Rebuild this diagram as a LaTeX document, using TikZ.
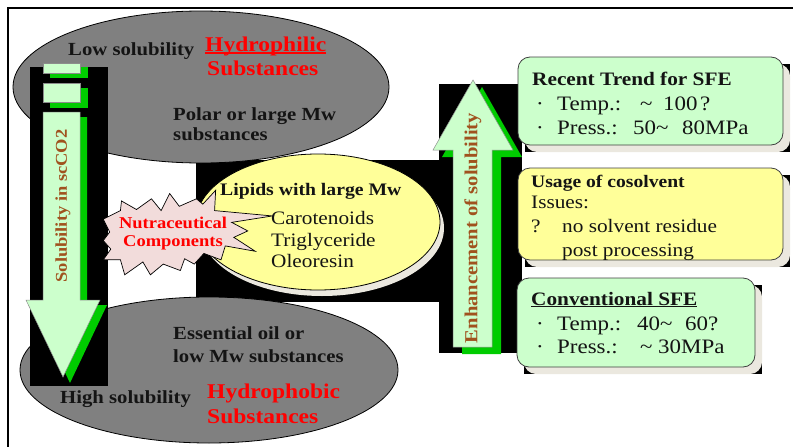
\documentclass[tikz,border=0pt]{standalone}
\usepackage{fontspec}
\setmainfont{Liberation Serif}[FakeStretch=1.12]
\usetikzlibrary{shapes.geometric}
\definecolor{lgreen}{RGB}{204,255,204}
\definecolor{dgreen}{RGB}{0,204,0}
\definecolor{ellgray}{RGB}{128,128,128}
\definecolor{lyellow}{RGB}{255,255,153}
\definecolor{pinkb}{RGB}{242,220,219}
\definecolor{brownt}{RGB}{160,82,30}
\definecolor{shbeige}{RGB}{235,232,223}
\definecolor{txt}{RGB}{20,20,20}
\begin{document}
\begin{tikzpicture}[x=1pt,y=-1pt,
  bl/.style={font=\fontsize{18.5}{20}\selectfont\bfseries, text=txt, inner sep=0pt, anchor=base west},
  rd/.style={font=\fontsize{21}{23}\selectfont\bfseries, text=red, inner sep=0pt, anchor=base west},
  rg/.style={font=\fontsize{19}{21}\selectfont, text=txt, inner sep=0pt, anchor=base west},
  bx/.style={font=\fontsize{20.5}{22}\selectfont, text=txt, inner sep=0pt, anchor=base west},
  vt/.style={font=\fontsize{17.5}{19}\selectfont\bfseries, text=brownt, inner sep=0pt, rotate=90},
  ell/.style={ellipse, draw=black, line width=0.8pt, inner sep=0pt},
  rbox/.style={draw=black!75, line width=0.8pt, rounded corners=12pt, inner sep=0pt},
  arrowlight/.style={fill=lgreen, draw=black!45, line width=0.5pt},
]
\useasboundingbox (0,0) rectangle (793,447);
% frame
\draw[line width=1.6pt] (8,447) -- (8,8) -- (793,8);

% black backgrounds
\fill[black] (196,160) rectangle (442,302);
\fill[black] (439,84) rectangle (522,353);

% grey ellipses
\node[ell, fill=ellgray, minimum width=376, minimum height=152] (topell) at (201,87) {};
\node[ell, fill=ellgray, minimum width=378, minimum height=146] (botell) at (209,370) {};

% left arrow
\fill[black] (30,67) rectangle (108,386);
\fill[dgreen] (50,67) rectangle (88,78);
\fill[dgreen] (50,88) rectangle (88,108);
\fill[dgreen] (50,117) -- (87,117) -- (87,305) -- (107,305) -- (70,383) -- (33,305) -- (50,305) -- cycle;
\path[arrowlight] (43,63) rectangle (80,73);
\path[arrowlight] (43,83) rectangle (80,102);
\path[arrowlight] (43,112) -- (80,112) -- (80,300) -- (100,300) -- (63,377) -- (26,300) -- (43,300) -- cycle;

% yellow ellipse
\fill[shbeige] (322,228) ellipse [x radius=122, y radius=68];
\node[ell, fill=lyellow, minimum width=244, minimum height=136] (lipell) at (318,222) {};

% starburst
\begin{scope}[scale around={1.07:(175,232)}]
\path[fill=pinkb, draw=black, line width=0.7pt]
  (108,220) -- (124,212) -- (125,203) -- (139,211) -- (153,201) -- (162,212)
  -- (170,196) -- (179,208) -- (195,201) -- (201,206) -- (213,193) -- (212,212)
  -- (266,217) -- (228,223) -- (243,231) -- (230,237) -- (250,250) -- (222,245)
  -- (218,258) -- (202,252) -- (193,262) -- (184,257) -- (180,268) -- (164,262)
  -- (152,272) -- (145,260) -- (128,272) -- (124,258) -- (108,258) -- (115,248)
  -- (108,240) -- (114,232) -- cycle;
\end{scope}

% up arrow
\fill[dgreen] (462,354) -- (462,157) -- (442,157) -- (482,87) -- (522,157) -- (501,157) -- (501,354) -- cycle;
\path[arrowlight] (453,347) -- (453,150) -- (433,150) -- (473,80) -- (513,150) -- (492,150) -- (492,347) -- cycle;

% boxes with shadows
\fill[black] (525,64) rectangle (790,152);
\fill[shbeige, rounded corners=12pt] (525,64) rectangle (790,152);
\node[rbox, fill=lgreen, minimum width=265, minimum height=88] (box1) at (650.5,101) {};
\fill[black] (525,175) rectangle (790,267);
\fill[shbeige, rounded corners=12pt] (525,175) rectangle (790,267);
\node[rbox, fill=lyellow, minimum width=265, minimum height=92] (box2) at (650.5,214) {};
\fill[black] (524,285) rectangle (762,374);
\fill[shbeige, rounded corners=12pt] (524,285) rectangle (762,374);
\node[rbox, fill=lgreen, minimum width=238, minimum height=89] (box3) at (636,322.5) {};

% texts, top ellipse
\node[bl] (lowsol) at (68,55) {Low solubility};
\node[rd] (hphil) at (205,51) {\makebox[0pt][l]{\rule[-2.5pt]{121pt}{1.2pt}}Hydrophilic};
\node[rd] (subs1) at (207,75) {Substances};
\node[bl] (polar1) at (173,120) {Polar or large Mw};
\node[bl] (polar2) at (173,140) {substances};

% texts, bottom ellipse
\node[bl] (ess1) at (173,339) {Essential oil or};
\node[bl] (ess2) at (173,362) {low Mw substances};
\node[bl] (highsol) at (60,403) {High solubility};
\node[rd] (hphob) at (207,398) {Hydrophobic};
\node[rd] (subs2) at (207,423) {Substances};

% middle
\node[bl, font=\fontsize{17.6}{19}\selectfont\bfseries] (lipids) at (220,195) {Lipids with large Mw};
\node[rg] (caro) at (271,224) {Carotenoids};
\node[rg] (trig) at (271,246) {Triglyceride};
\node[rg] (oleo) at (271,267) {Oleoresin};
\node[rd, font=\fontsize{16.5}{18}\selectfont\bfseries, anchor=base] (nutra1) at (173,228) {Nutraceutical};
\node[rd, font=\fontsize{16.5}{18}\selectfont\bfseries, anchor=base] (nutra2) at (173,246) {Components};

% arrow labels
\node[vt, font=\fontsize{16.5}{18}\selectfont\bfseries] (solsc) at (63,206) {Solubility in scCO2};
\node[vt, font=\fontsize{18.4}{20}\selectfont\bfseries] (enh) at (473,228) {Enhancement of solubility};

% box 1
\node[bl, font=\fontsize{19}{21}\selectfont\bfseries] (rt) at (532,85) {Recent Trend for SFE};
\node[bx] (rt1) at (536,110) {\makebox[21pt][l]{·}\makebox[83pt][l]{Temp.:}\makebox[23pt][l]{\textasciitilde}\makebox[37pt][l]{100}?};
\node[bx] (rt2) at (536,134) {\makebox[21pt][l]{·}\makebox[76pt][l]{Press.:}\makebox[49pt][l]{50\textasciitilde}80MPa};

% box 2
\node[bl, font=\fontsize{17.5}{19}\selectfont\bfseries] (uc) at (531,187) {Usage of cosolvent};
\node[rg] (uc1) at (531,208) {Issues:};
\node[rg] (uc2) at (531,232) {\makebox[31pt][l]{?}no solvent residue};
\node[rg] (uc3) at (562,256) {post processing};

% box 3
\node[bl, font=\fontsize{19}{21}\selectfont\bfseries] (cs) at (531,305) {\underline{Conventional SFE}};
\node[bx] (cs1) at (536,330) {\makebox[21pt][l]{·}\makebox[80pt][l]{Temp.:}\makebox[48pt][l]{40\textasciitilde}60?};
\node[bx] (cs2) at (536,353) {\makebox[21pt][l]{·}\makebox[83pt][l]{Press.:}\makebox[18pt][l]{\textasciitilde}30MPa};
\end{tikzpicture}
\end{document}
